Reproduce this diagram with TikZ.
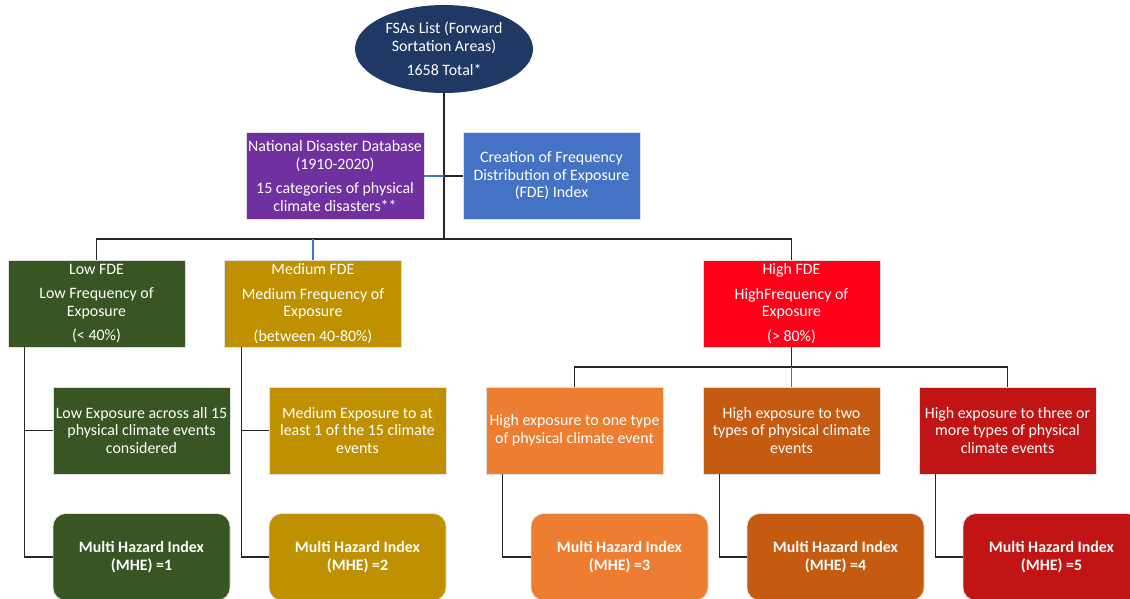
\documentclass[tikz,border=0pt]{standalone}
\usepackage{fontspec}
\setmainfont{Carlito}
\usetikzlibrary{shapes.geometric}
\definecolor{navy}{HTML}{203864}
\definecolor{ndpurple}{HTML}{7030A0}
\definecolor{fdeblue}{HTML}{4472C4}
\definecolor{lowgreen}{HTML}{375623}
\definecolor{medgold}{HTML}{BF9000}
\definecolor{highred}{HTML}{FF0018}
\definecolor{hiorange}{HTML}{ED7D31}
\definecolor{hiburnt}{HTML}{C55A11}
\definecolor{hidark}{HTML}{C11414}
\tikzstyle{box}=[rectangle, draw=black!12, line width=0.6pt, text=white, align=center, minimum width=177pt, minimum height=87pt, inner sep=2pt, font=\fontsize{15.9}{17.5}\selectfont]
\tikzstyle{mhe}=[box, rounded corners=13pt, font=\fontsize{15.9}{17.5}\selectfont\bfseries]
\tikzstyle{ln}=[line width=1.1pt, black!85]
\tikzstyle{blueln}=[line width=1.1pt, fdeblue]

\begin{document}
\begin{tikzpicture}[x=1pt, y=-1pt]
\useasboundingbox (0,0) rectangle (1130,599);
\clip (0,0) rectangle (1130,599);
\node[ellipse, fill=navy, text=white, minimum width=178pt, minimum height=88pt, inner sep=0pt, align=center, font=\fontsize{15.9}{17.5}\selectfont] (fsa) at (444,49) {FSAs List (Forward\\Sortation Areas)\\[7pt]1658 Total*};
\node[box, fill=ndpurple] (ndd) at (335,176) {National Disaster Database\\(1910-2020)\\[7pt]15 categories of physical\\climate disasters**};
\node[box, fill=fdeblue] (fde) at (551.5,176) {Creation of Frequency\\Distribution of Exposure\\(FDE) Index};
% FDE levels
\node[box, fill=lowgreen] (low) at (96.5,303.5) {Low FDE\\[7pt]Low Frequency of\\Exposure\\[7pt](< 40\%)};
\node[box, fill=medgold] (med) at (313,303.5) {Medium FDE\\[7pt]Medium Frequency of\\Exposure\\[7pt](between 40-80\%)};
\node[box, fill=highred] (high) at (791.5,303.5) {High FDE\\[7pt]HighFrequency of\\Exposure\\[7pt](> 80\%)};
% exposure
\node[box, fill=lowgreen] (lowexp) at (141.5,430.5) {Low Exposure across all 15\\physical climate events\\considered};
\node[box, fill=medgold] (medexp) at (357.5,430.5) {Medium Exposure to at\\least 1 of the 15 climate\\events};
\node[box, fill=hiorange] (hexp1) at (574.5,430.5) {High exposure to one type\\of physical climate event};
\node[box, fill=hiburnt] (hexp2) at (791.5,430.5) {High exposure to two\\types of physical climate\\events};
\node[box, fill=hidark] (hexp3) at (1007.5,430.5) {High exposure to three or\\more types of physical\\climate events};
% indices
\node[mhe, fill=lowgreen] (mhe1) at (141.5,557) {Multi Hazard Index\\(MHE) =1};
\node[mhe, fill=medgold] (mhe2) at (357.5,557) {Multi Hazard Index\\(MHE) =2};
\node[mhe, fill=hiorange] (mhe3) at (619.5,557) {Multi Hazard Index\\(MHE) =3};
\node[mhe, fill=hiburnt] (mhe4) at (835.5,557) {Multi Hazard Index\\(MHE) =4};
\node[mhe, fill=hidark] (mhe5) at (1051.5,557) {Multi Hazard Index\\(MHE) =5};
% connectors
\coordinate (bar) at (444,239);
\coordinate (hbar) at (791.5,367);
\draw[ln] (fsa.south) -- (bar);
\draw[ln] (low.north) |- (bar) -| (high.north);
\draw[blueln] (med.north) -- (med.north |- bar);
\draw[blueln] (ndd.east) -- (ndd.east -| bar);
\draw[ln] (ndd.east -| bar) -- (fde.west);
\draw[ln] (high.south) -- (hbar);
\draw[ln] (hexp1.north) |- (hbar) -| (hexp3.north);
\draw[blueln] (hbar) -- (hexp2.north);
\foreach \a/\b in {low/mhe1, med/mhe2, hexp1/mhe3, hexp2/mhe4, hexp3/mhe5}
  {\draw[ln] ([xshift=17pt]\a.south west) |- (\b.west);}
\draw[ln] ([xshift=17pt]low.south west |- lowexp.west) -- (lowexp.west);
\draw[ln] ([xshift=17pt]med.south west |- medexp.west) -- (medexp.west);
\end{tikzpicture}
\end{document}
